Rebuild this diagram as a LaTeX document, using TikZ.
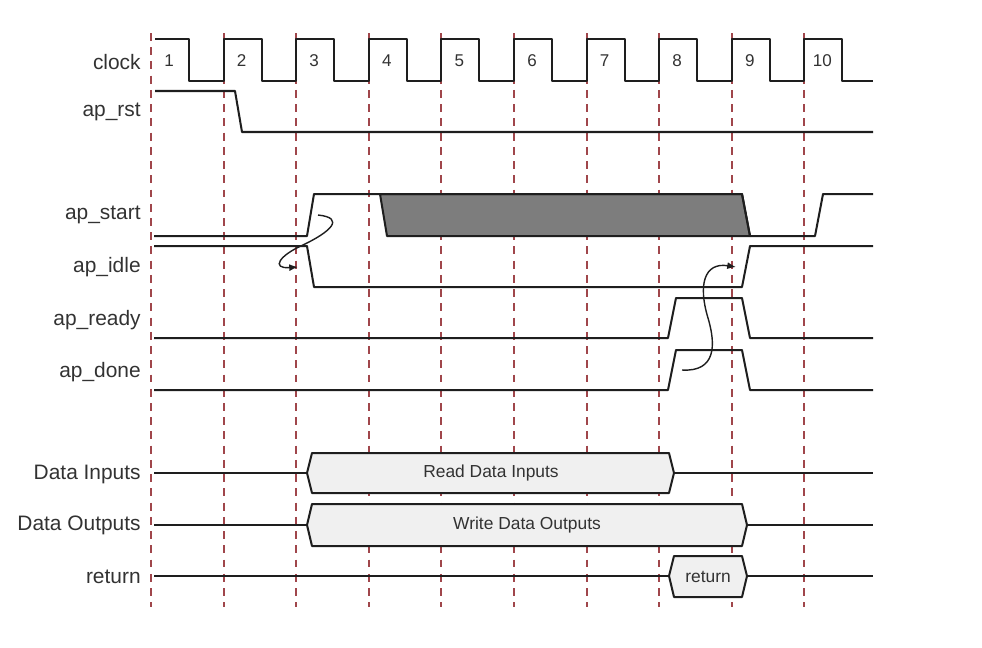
\documentclass[tikz,border=0pt]{standalone}
\usepackage{fontspec}
\setmainfont{Liberation Sans}
\usepackage{xcolor}
\usetikzlibrary{arrows.meta, positioning}

\definecolor{tickred}{RGB}{160,70,75}
\definecolor{wavegray}{RGB}{30,30,30}
\definecolor{busfill}{RGB}{240,240,240}
\definecolor{busygray}{RGB}{125,125,125}
\definecolor{labelgray}{RGB}{50,50,50}

\tikzset{
	tickline/.style={draw=tickred, line width=1.1pt, dash pattern=on 4.5pt off 3.6pt},
	wave/.style={draw=wavegray, line width=1.15pt, line join=round},
	busbox/.style={wave, fill=busfill},
	busy/.style={wave, fill=busygray},
	cause/.style={draw=wavegray, line width=0.8pt, -{Latex[length=5pt, width=4pt]}},
	siglabel/.style={anchor=east, inner sep=0pt, text=labelgray, font=\fontsize{11.9}{14}\selectfont},
	clknum/.style={inner sep=0pt, text=labelgray, font=\fontsize{9.7}{12}\selectfont},
	bustext/.style={inner sep=0pt, text=labelgray, font=\fontsize{9.9}{12}\selectfont}
}

\begin{document}
\begin{tikzpicture}[x=0.02cm, y=-0.02cm]
	\useasboundingbox (0,0) rectangle (982,647);
	% Paths, nodes and wires:
	\foreach \i in {0,...,9}
		\draw[tickline] ({151+72.6*\i},33) -- ({151+72.6*\i},607);
	\node[siglabel] (Lclk) at (141,62) {clock};
	\node[siglabel] (Lrst) at (141,112) {ap\_rst};
	\node[siglabel] (Lstart) at (141,215) {ap\_start};
	\node[siglabel] (Lidle) at (141,267) {ap\_idle};
	\node[siglabel] (Lready) at (141,320) {ap\_ready};
	\node[siglabel] (Ldone) at (141,372) {ap\_done};
	\node[siglabel] (Lin) at (141,474) {Data Inputs};
	\node[siglabel] (Lout) at (141,525) {Data Outputs};
	\node[siglabel] (Lret) at (141,577) {return};
	\draw[wave] (155,39) foreach \i in {0,...,8} {-| ({189+72.6*\i},81) -| ({223.6+72.6*\i},39)} -| (842.4,81) -- (873,81);
	\foreach \i in {1,...,10}
		\node[clknum] (C\i) at ({151+72.6*(\i-1)+18},61) {\i};
	\draw[wave] (155,91) -- (235,91) -- (242,132) -- (873,132);
	\draw[busy] (380,194) -- (742,194) -- (750,236) -- (387,236) -- cycle;
	\draw[wave] (154,236) -- (307,236) -- (314,194) -- (742,194) -- (750,236) -- (815,236) -- (823,194) -- (873,194);
	\draw[wave] (154,246) -- (307,246) -- (314,287) -- (742,287) -- (750,246) -- (873,246);
	\draw[wave] (154,338) -- (668,338) -- (676,298) -- (742,298) -- (750,338) -- (873,338);
	\draw[wave] (154,390) -- (668,390) -- (676,350) -- (742,350) -- (750,390) -- (873,390);
	\coordinate (S1) at (318,215);
	\coordinate (E1) at (298,267);
	\draw[cause] (S1) .. controls (346,218) and (330,232) .. (303,245) .. controls (280,255) and (270,269) .. (E1);
	\coordinate (S2) at (682,370);
	\coordinate (E2) at (736,267);
	\draw[cause] (S2) .. controls (716,372) and (716,345) .. (708,318) .. controls (698,285) and (704,262) .. (E2);
	\draw[wave] (154,473) -- (307,473);
	\draw[busbox] (307,473) -- (312,453) -- (669,453) -- (674,473) -- (669,493) -- (312,493) -- cycle;
	\draw[wave] (674,473) -- (873,473);
	\node[bustext] (Tin) at (491,473) {Read Data Inputs};
	\draw[wave] (154,525) -- (307,525);
	\draw[busbox] (307,525) -- (312,504) -- (742,504) -- (747,525) -- (742,546) -- (312,546) -- cycle;
	\draw[wave] (747,525) -- (873,525);
	\node[bustext] (Tout) at (527,525) {Write Data Outputs};
	\draw[wave] (154,576) -- (669,576);
	\draw[busbox] (669,576) -- (674,556) -- (742,556) -- (747,576) -- (742,597) -- (674,597) -- cycle;
	\draw[wave] (747,576) -- (873,576);
	\node[bustext] (Tret) at (708,577) {return};
\end{tikzpicture}
\end{document}
